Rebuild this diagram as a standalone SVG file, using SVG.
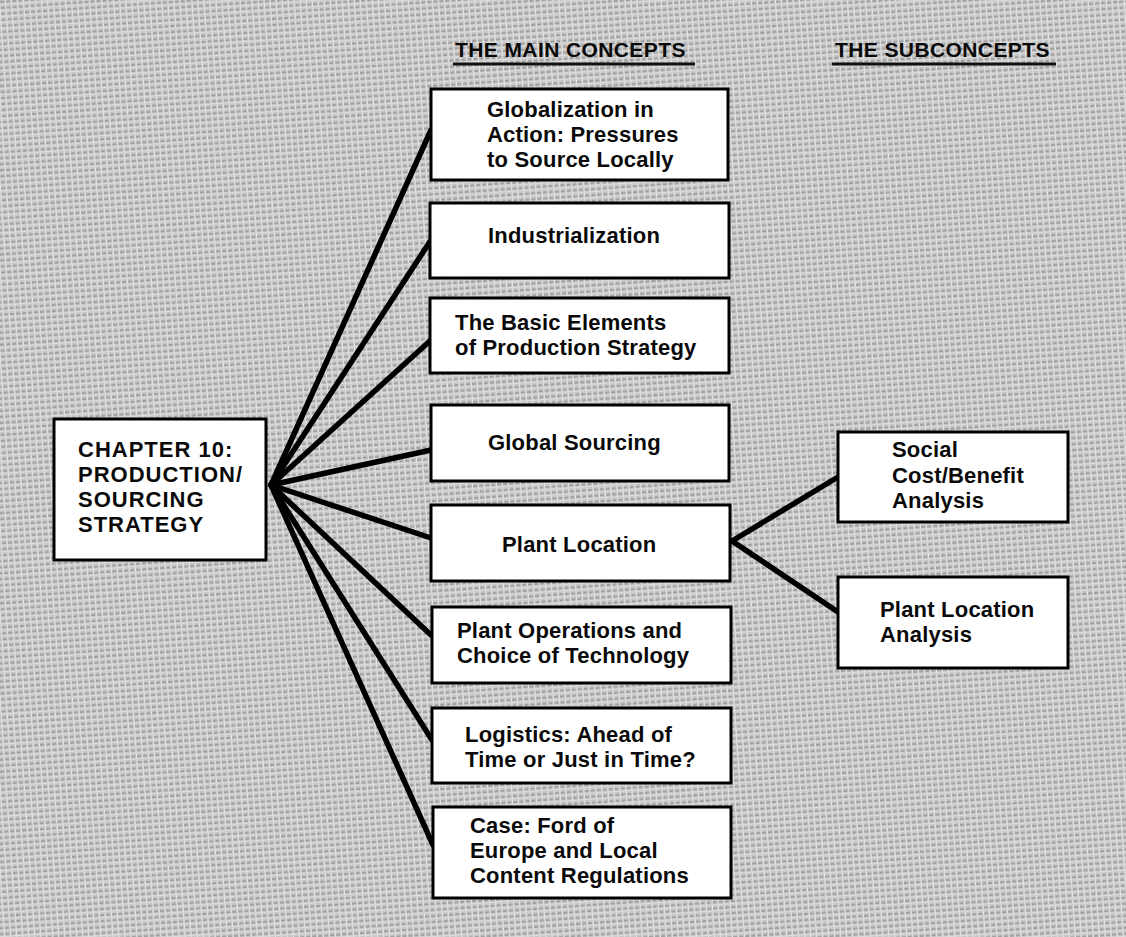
<svg xmlns="http://www.w3.org/2000/svg" width="1126" height="937" viewBox="0 0 1126 937">
<defs>
<pattern id="weave" width="6" height="6" patternUnits="userSpaceOnUse" patternTransform="rotate(-4)">
<rect width="6" height="6" fill="#c6c6c6"/>
<rect x="0" y="1" width="4" height="2" fill="#a2a2a2"/>
<rect x="5" y="0" width="1" height="6" fill="#e4e4e4"/>
<rect x="0" y="4" width="6" height="1" fill="#dcdcdc"/>
</pattern>
<style>
.box{fill:#fff;stroke:#000;stroke-width:3}
.t{font-family:"Liberation Sans",Arial,sans-serif;font-weight:bold;font-size:22px;letter-spacing:0.2px;fill:#0a0a0a}
.cap{letter-spacing:1px}
.hdr{font-family:"Liberation Sans",Arial,sans-serif;font-weight:bold;font-size:21px;letter-spacing:0.4px;fill:#0a0a0a}
.ul{stroke:#111;stroke-width:3}
.c{stroke:#000;stroke-width:5.5;stroke-linecap:round;fill:none}
</style>
</defs>
<rect width="1126" height="937" fill="url(#weave)"/>

<g id="headers">
<text class="hdr" x="455" y="57">THE MAIN CONCEPTS</text>
<line class="ul" x1="453" y1="64" x2="695" y2="64"/>
<text class="hdr" x="835" y="57">THE SUBCONCEPTS</text>
<line class="ul" x1="832" y1="64" x2="1056" y2="64"/>
</g>

<g id="connectors">
<line class="c" x1="271" y1="485" x2="431" y2="130"/>
<line class="c" x1="271" y1="485" x2="431" y2="240"/>
<line class="c" x1="271" y1="485" x2="431" y2="340"/>
<line class="c" x1="271" y1="485" x2="431" y2="450"/>
<line class="c" x1="271" y1="485" x2="431" y2="538"/>
<line class="c" x1="271" y1="485" x2="431" y2="635"/>
<line class="c" x1="271" y1="485" x2="432" y2="740"/>
<line class="c" x1="271" y1="485" x2="433" y2="845"/>
<line class="c" x1="732" y1="541" x2="838" y2="477"/>
<line class="c" x1="732" y1="541" x2="838" y2="612"/>
</g>

<g id="chapter">
<rect class="box" x="54" y="419" width="212" height="141"/>
<text class="t cap" x="78" y="457">CHAPTER 10:</text>
<text class="t cap" x="78" y="482">PRODUCTION/</text>
<text class="t cap" x="78" y="507">SOURCING</text>
<text class="t cap" x="78" y="532">STRATEGY</text>
</g>

<g id="globalization">
<rect class="box" x="431" y="89" width="297" height="91"/>
<text class="t" x="487" y="117">Globalization in</text>
<text class="t" x="487" y="142">Action: Pressures</text>
<text class="t" x="487" y="167">to Source Locally</text>
</g>

<g id="industrialization">
<rect class="box" x="430" y="203" width="299" height="75"/>
<text class="t" x="488" y="243">Industrialization</text>
</g>

<g id="basic-elements">
<rect class="box" x="430" y="298" width="299" height="75"/>
<text class="t" x="455" y="330">The Basic Elements</text>
<text class="t" x="455" y="355">of Production Strategy</text>
</g>

<g id="global-sourcing">
<rect class="box" x="431" y="405" width="298" height="76"/>
<text class="t" x="488" y="450">Global Sourcing</text>
</g>

<g id="plant-location">
<rect class="box" x="431" y="505" width="299" height="76"/>
<text class="t" x="502" y="552">Plant Location</text>
</g>

<g id="plant-operations">
<rect class="box" x="432" y="607" width="299" height="76"/>
<text class="t" x="457" y="638">Plant Operations and</text>
<text class="t" x="457" y="663">Choice of Technology</text>
</g>

<g id="logistics">
<rect class="box" x="432" y="708" width="299" height="75"/>
<text class="t" x="465" y="742">Logistics: Ahead of</text>
<text class="t" x="465" y="767">Time or Just in Time?</text>
</g>

<g id="case-ford">
<rect class="box" x="433" y="807" width="298" height="91"/>
<text class="t" x="470" y="833">Case: Ford of</text>
<text class="t" x="470" y="858">Europe and Local</text>
<text class="t" x="470" y="883">Content Regulations</text>
</g>

<g id="social-cost-benefit">
<rect class="box" x="838" y="432" width="230" height="90"/>
<text class="t" x="892" y="457">Social</text>
<text class="t" x="892" y="483">Cost/Benefit</text>
<text class="t" x="892" y="508">Analysis</text>
</g>

<g id="plant-location-analysis">
<rect class="box" x="838" y="577" width="230" height="91"/>
<text class="t" x="880" y="617">Plant Location</text>
<text class="t" x="880" y="642">Analysis</text>
</g>
</svg>
